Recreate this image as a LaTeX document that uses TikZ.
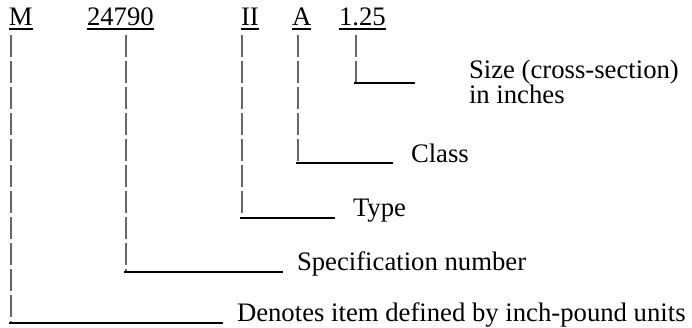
\documentclass[tikz,border=0pt]{standalone}
\usepackage{fontspec}
\setmainfont{Liberation Serif}
\begin{document}
\begin{tikzpicture}[x=1pt,y=-1pt,
  lbl/.style={anchor=base west,inner sep=0pt,outer sep=0pt,font=\fontsize{26.7}{23.5}\selectfont},
  lead/.style={draw=black!60,line width=1.3pt,dash pattern=on 22pt off 4pt},
  shelf/.style={draw=black,line width=1.4pt},
  uline/.style={draw=black,line width=1.3pt}]
\useasboundingbox (0,0) rectangle (692,328);
% top row
\node[lbl] (m) at (9,26) {M};
\node[lbl] (spec) at (87,26) {24790};
\node[lbl] (type) at (241,26) {II};
\node[lbl] (cls) at (292,26) {A};
\node[lbl] (size) at (339,26) {1.25};
\foreach \n in {m,spec,type,cls,size}{
  \draw[uline] ([yshift=-3pt]\n.base west) -- ([yshift=-3pt]\n.base east);
}
% labels
\node[lbl,align=left] (tsize) at (469,104) {Size (cross-section)\\in inches};
\node[lbl] (tcls) at (411,163) {Class};
\node[lbl] (ttype) at (353,217) {Type};
\node[lbl] (tspec) at (297,270) {Specification number};
\node[lbl] (tm) at (237,321) {Denotes item defined by inch-pound units};
% leader coordinates
\coordinate (vm) at (11,35);     \coordinate (cm) at (11,323);   \coordinate (em) at (223,323);
\coordinate (vs) at (126,35);    \coordinate (cs) at (126,272);  \coordinate (es) at (283,272);
\coordinate (vt) at (242,35);    \coordinate (ct) at (242,218);  \coordinate (et) at (335,218);
\coordinate (vc) at (298,35);    \coordinate (cc) at (298,163);  \coordinate (ec) at (393,163);
\coordinate (vz) at (356,35);    \coordinate (cz) at (356,83);   \coordinate (ez) at (415,83);
\foreach \a/\b/\c in {vm/cm/em,vs/cs/es,vt/ct/et,vc/cc/ec,vz/cz/ez}{
  \draw[lead] (\a) -- (\b);
  \draw[shelf] ([xshift=-2pt]\b) -- (\c);
}
\end{tikzpicture}
\end{document}
